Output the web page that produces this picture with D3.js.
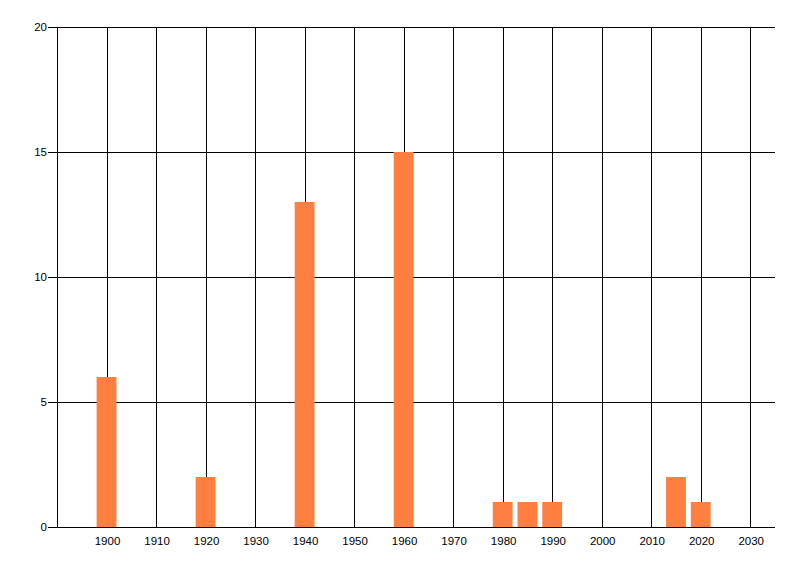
<!DOCTYPE html>
<html lang="en">
<head>
<meta charset="UTF-8">
<title>bars</title>
<script src="https://d3js.org/d3.v7.min.js"></script>
<style>
body { margin: 0; background: #fff; }
svg text { font-family: "Liberation Sans", "DejaVu Sans", sans-serif; font-size: 11.5px; fill: #000; }
</style>
</head>
<body>
<div id="container"></div>
<script>
// data
const years = [1900, 1920, 1940, 1960, 1980, 1985, 1990, 2015, 2020];
const counts = [6, 2, 13, 15, 1, 1, 1, 2, 1];
const xTicks = d3.range(1900, 2031, 10);
const yTicks = [0, 5, 10, 15, 20];

const width = 800, height = 576;
const plotLeft = 57, plotRight = 775, plotTop = 27, plotBottom = 527;
const barYears = 4;

const svg = d3.select("#container").append("svg")
    .attr("width", width)
    .attr("height", height);

const x = d3.scaleLinear().domain([1890, 2035]).range([plotLeft, plotRight]);
const y = d3.scaleLinear().domain([0, 20]).range([plotBottom, plotTop]);

// grid
svg.append("g")
    .selectAll("line")
    .data([1890].concat(xTicks))
    .join("line")
    .attr("x1", d => Math.round(x(d)) + 0.5)
    .attr("x2", d => Math.round(x(d)) + 0.5)
    .attr("y1", plotTop)
    .attr("y2", plotBottom)
    .attr("stroke", "#000");

svg.append("g")
    .selectAll("line")
    .data(yTicks)
    .join("line")
    .attr("x1", plotLeft - 9)
    .attr("x2", plotRight)
    .attr("y1", d => Math.round(y(d)) + 0.5)
    .attr("y2", d => Math.round(y(d)) + 0.5)
    .attr("stroke", "#000");

// bars
svg.append("g")
    .selectAll("rect")
    .data(years.map((d, i) => ({ year: d, count: counts[i] })))
    .join("rect")
    .attr("x", d => x(d.year - barYears / 2))
    .attr("width", x(barYears) - x(0))
    .attr("y", d => y(d.count))
    .attr("height", d => y(0) - y(d.count))
    .attr("fill", "#ff7f40");

// labels
svg.append("g")
    .selectAll("text")
    .data(yTicks)
    .join("text")
    .attr("x", plotLeft - 10)
    .attr("y", d => y(d) + 4)
    .attr("text-anchor", "end")
    .text(d => d);

svg.append("g")
    .selectAll("text")
    .data(xTicks)
    .join("text")
    .attr("x", d => x(d) + 1)
    .attr("y", plotBottom + 18)
    .attr("text-anchor", "middle")
    .text(d => d);
</script>
</body>
</html>
